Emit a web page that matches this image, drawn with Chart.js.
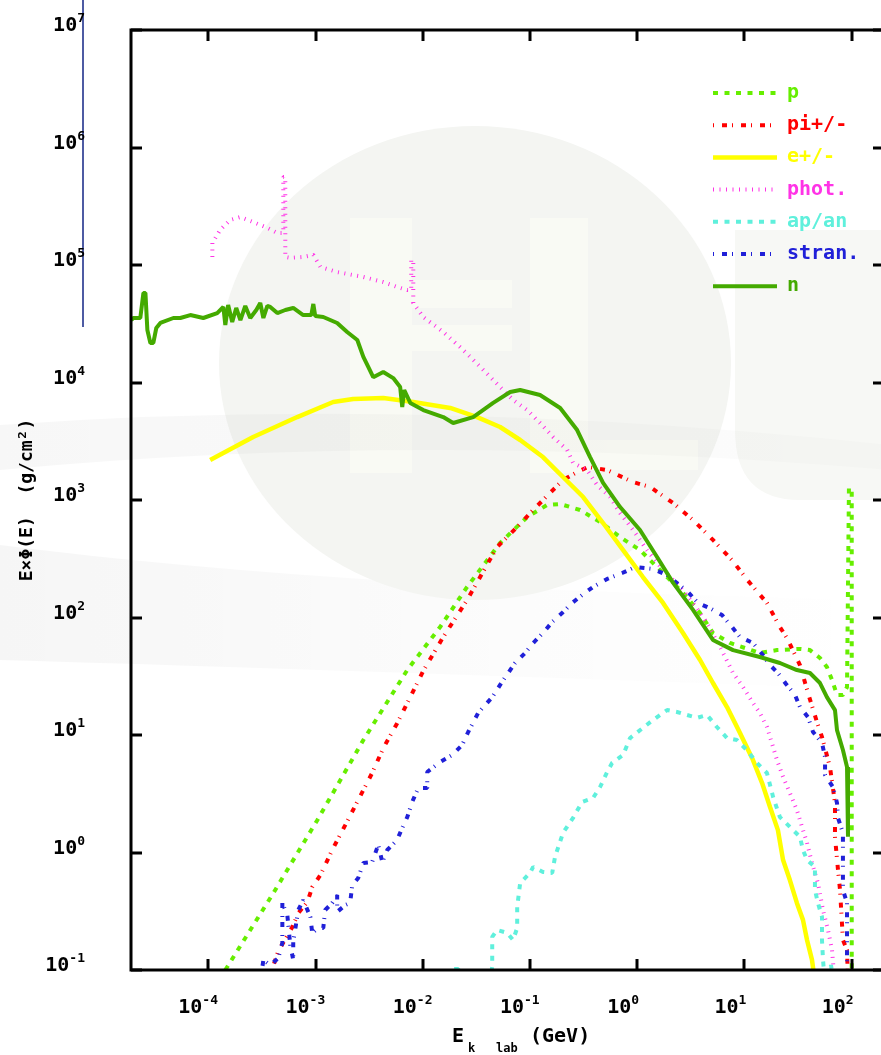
<!DOCTYPE html>
<html>
<head>
<meta charset="utf-8">
<script src="https://cdn.jsdelivr.net/npm/chart.js@4.4.0/dist/chart.umd.min.js"></script>
<style>
  html, body { margin: 0; padding: 0; background: #fff; overflow: hidden; }
  canvas { display: block; }
</style>
</head>
<body>
<canvas id="spectra" width="890" height="1055"></canvas>
<script>
// energy spectra E*phi(E) per particle family, E in GeV

const seriesLabels = ['p', 'pi+/-', 'e+/-', 'phot.', 'ap/an', 'stran.', 'n'];
const xTickExps = [-4, -3, -2, -1, 0, 1, 2];
const yTickExps = [-1, 0, 1, 2, 3, 4, 5, 6, 7];

const pEnergy = [1.44e-4, 4.04e-4, 1.04e-3, 2.79e-3, 7.16e-3, 1.45e-2, 2.59e-2, 5.26e-2, 9.40e-2, 0.144,
    0.191, 0.293, 0.450, 0.692, 1.06, 1.63, 2.67, 3.85, 5.08, 7.33,
    10.1, 13.9, 20.1, 32.9, 40.8, 50.6, 58.7, 65.5, 72.9, 82.8,
    90.4, 94.2, 100, 100];
const pFlux = [0.1, 0.452, 1.89, 9.06, 35.7, 83.0, 182, 431, 716, 906,
    925, 822, 650, 484, 375, 254, 162, 109, 73.8, 60.7,
    55.0, 49.9, 52.8, 54.0, 52.8, 45.2, 37.9, 29.4, 21.9, 21.9,
    25.6, 1260, 1260, 0.05];

const piEnergy = [3.86e-4, 4.49e-4, 6.07e-4, 6.90e-4, 8.38e-4, 9.31e-4, 1.11e-3, 1.43e-3, 1.89e-3, 2.50e-3,
    3.37e-3, 4.28e-3, 5.77e-3, 7.64e-3, 1.01e-2, 1.55e-2, 2.59e-2, 4.93e-2, 7.59e-2, 0.107,
    0.154, 0.203, 0.275, 0.348, 0.524, 0.914, 1.32, 2.16, 3.31, 5.08,
    7.64, 10.8, 16.2, 21.4, 24.9, 32.9, 39.1, 47.4, 52.8, 62.7,
    69.8, 69.8, 74.5, 77.8, 82.8, 90.4, 92.3];
const piFlux = [0.096, 0.145, 0.232, 0.305, 0.379, 0.508, 0.644, 1.05, 1.71, 2.80,
    4.75, 7.74, 12.6, 21.0, 35.1, 68.2, 141, 398, 589, 822,
    1150, 1480, 1730, 1910, 1800, 1420, 1290, 942, 676, 457,
    308, 205, 133, 83.0, 66.9, 39.4, 22.8, 12.9, 9.62, 5.34,
    2.64, 1.36, 0.710, 0.480, 0.180, 0.148, 0.082];

const eEnergy = [1.04e-4, 2.62e-4, 6.75e-4, 1.46e-3, 2.24e-3, 4.28e-3, 8.15e-3, 1.80e-2, 3.21e-2, 5.26e-2,
    8.09e-2, 0.132, 0.203, 0.313, 0.480, 0.738, 1.13, 1.74, 2.67, 3.85,
    5.08, 6.87, 9.08, 12.0, 14.6, 17.3, 20.5, 22.9, 26.5, 30.8,
    35.1, 38.3, 42.6, 44.5];
const eFlux = [2190, 3440, 5080, 6820, 7240, 7380, 6820, 6070, 5080, 4180,
    3240, 2320, 1570, 1060, 637, 375, 221, 133, 73.8, 43.5,
    27.7, 17.3, 10.4, 6.12, 3.90, 2.44, 1.55, 0.863, 0.583, 0.372,
    0.267, 0.180, 0.122, 0.091];

const photEnergy = [1.09e-4, 1.09e-4, 1.29e-4, 1.60e-4, 1.99e-4, 2.62e-4, 3.55e-4, 4.40e-4, 5.00e-4, 5.00e-4,
    5.22e-4, 5.22e-4, 5.81e-4, 7.67e-4, 9.53e-4, 1.11e-3, 1.59e-3, 2.79e-3, 4.28e-3, 5.77e-3,
    7.16e-3, 7.80e-3, 7.80e-3, 8.15e-3, 8.15e-3, 1.01e-2, 1.55e-2, 2.23e-2, 2.77e-2, 3.66e-2,
    5.26e-2, 6.95e-2, 9.40e-2, 0.124, 0.164, 0.222, 0.252, 0.340, 0.422, 0.558,
    0.692, 0.914, 1.23, 1.74, 2.51, 3.31, 4.47, 5.92, 7.82, 9.68,
    12.0, 13.9, 16.2, 18.0, 20.1, 22.9, 26.5, 30.8, 34.4, 38.3,
    42.6, 48.4, 54.0, 60.1, 65.5, 68.4];
const photFlux = [1.17e5, 1.54e5, 1.99e5, 2.42e5, 2.56e5, 2.32e5, 2.07e5, 1.87e5, 1.87e5, 5.61e5,
    5.61e5, 1.17e5, 1.15e5, 1.17e5, 1.22e5, 9.62e4, 8.71e4, 7.91e4, 7.16e4, 6.50e4,
    6.12e4, 6.12e4, 1.10e5, 1.10e5, 4.75e4, 3.61e4, 2.69e4, 2.00e4, 1.65e4, 1.28e4,
    9160, 7100, 5830, 4520, 3440, 2670, 2070, 1800, 1340, 1060,
    774, 556, 375, 254, 182, 133, 89.8, 56.1, 33.7, 25.6,
    18.7, 15.4, 11.7, 8.55, 6.12, 4.40, 3.21, 2.30, 1.65, 1.21,
    0.815, 0.550, 0.324, 0.219, 0.148, 0.091];

const apEnergy = [1.73e-2, 1.88e-2, 2.14e-2, 2.33e-2, 4.07e-2, 4.44e-2, 4.44e-2, 4.93e-2, 6.12e-2, 6.95e-2,
    7.59e-2, 7.59e-2, 8.09e-2, 0.100, 0.107, 0.132, 0.161, 0.171, 0.203, 0.252,
    0.306, 0.387, 0.450, 0.524, 0.582, 0.738, 0.857, 1.13, 1.40, 1.90,
    2.35, 2.91, 3.61, 4.47, 5.53, 6.87, 8.51, 10.5, 13.1, 16.2,
    18.5, 21.4, 26.5, 32.9, 35.1, 38.3, 45.4, 45.4, 48.4, 52.8,
    52.8, 54.0, 56.4, 60.1, 64.1, 68.4];
const apFlux = [0.068, 0.102, 0.102, 0.068, 0.068, 0.106, 0.191, 0.219, 0.207, 0.180,
    0.228, 0.343, 0.550, 0.670, 0.754, 0.683, 0.670, 0.916, 1.47, 1.97,
    2.69, 2.91, 3.61, 4.84, 5.78, 6.76, 9.42, 11.5, 13.4, 16.3,
    15.7, 14.8, 14.0, 14.8, 11.7, 9.42, 9.06, 7.45, 5.78, 4.75,
    2.96, 2.00, 1.65, 1.36, 1.05, 0.863, 0.754, 0.480, 0.372, 0.283,
    0.180, 0.122, 0.074, 0.074, 0.110, 0.074];

const strEnergy = [3.12e-4, 3.26e-4, 3.78e-4, 4.49e-4, 4.90e-4, 4.90e-4, 5.45e-4, 5.81e-4, 6.19e-4, 6.19e-4,
    6.90e-4, 7.67e-4, 8.94e-4, 9.31e-4, 1.06e-3, 1.18e-3, 1.23e-3, 1.43e-3, 1.59e-3, 1.59e-3,
    1.89e-3, 2.10e-3, 2.20e-3, 2.50e-3, 2.79e-3, 3.37e-3, 3.84e-3, 4.19e-3, 4.66e-3, 5.77e-3,
    6.43e-3, 7.16e-3, 7.96e-3, 9.06e-3, 1.10e-2, 1.10e-2, 1.45e-2, 1.88e-2, 2.33e-2, 2.65e-2,
    3.28e-2, 4.44e-2, 5.26e-2, 6.25e-2, 7.26e-2, 9.00e-2, 0.107, 0.132, 0.161, 0.199,
    0.247, 0.313, 0.387, 0.524, 0.723, 0.955, 1.40, 1.90, 2.97, 3.68,
    4.76, 6.17, 7.64, 9.08, 12.0, 14.6, 17.3, 20.5, 24.4, 29.6,
    32.9, 39.1, 43.6, 52.8, 56.4, 56.4, 66.8, 72.9, 74.5, 82.8,
    82.8, 82.8, 82.8, 90.4, 90.4, 90.4, 90.4];
const strFlux = [0.091, 0.122, 0.110, 0.126, 0.170, 0.372, 0.294, 0.163, 0.122, 0.173,
    0.324, 0.394, 0.283, 0.207, 0.228, 0.228, 0.324, 0.372, 0.435, 0.312,
    0.357, 0.372, 0.528, 0.607, 0.815, 0.830, 1.16, 0.830, 1.05, 1.28,
    1.62, 2.00, 2.69, 3.54, 3.54, 4.84, 5.89, 6.76, 8.22, 10.6,
    15.4, 21.0, 26.7, 33.7, 41.0, 49.9, 60.7, 73.8, 91.6, 109,
    133, 158, 182, 213, 239, 269, 259, 230, 165, 133,
    120, 105, 83.0, 68.2, 60.7, 48.9, 39.4, 33.7, 27.2, 21.9,
    17.3, 14.2, 10.6, 8.55, 6.50, 4.57, 3.61, 2.64, 1.97, 1.47,
    1.01, 0.710, 0.480, 0.372, 0.257, 0.180, 0.091];

const nEnergy = [1.91e-5, 2.00e-5, 2.32e-5, 2.48e-5, 2.59e-5, 2.70e-5, 2.88e-5, 3.07e-5, 3.27e-5, 3.57e-5,
    4.72e-5, 5.48e-5, 6.79e-5, 8.97e-5, 1.21e-4, 1.38e-4, 1.44e-4, 1.53e-4, 1.67e-4, 1.82e-4,
    1.99e-4, 2.21e-4, 2.46e-4, 2.80e-4, 3.05e-4, 3.26e-4, 3.55e-4, 3.78e-4, 4.40e-4, 5.22e-4,
    6.19e-4, 7.67e-4, 9.12e-4, 9.53e-4, 9.93e-4, 1.18e-3, 1.59e-3, 1.97e-3, 2.45e-3, 2.79e-3,
    3.10e-3, 3.45e-3, 4.28e-3, 5.30e-3, 6.15e-3, 6.43e-3, 6.71e-3, 7.64e-3, 1.01e-2, 1.55e-2,
    1.92e-2, 2.95e-2, 4.53e-2, 6.53e-2, 8.09e-2, 0.124, 0.191, 0.275, 0.363, 0.480,
    0.692, 1.06, 1.53, 2.16, 3.31, 5.08, 7.82, 13.9, 21.4, 30.8,
    40.8, 50.6, 58.7, 69.8, 72.9, 82.8, 90.4, 92.3];
const nFlux = [3.40e4, 3.54e4, 3.54e4, 5.78e4, 5.78e4, 2.80e4, 2.17e4, 2.17e4, 2.91e4, 3.21e4,
    3.54e4, 3.54e4, 3.75e4, 3.54e4, 3.90e4, 4.40e4, 3.08e4, 4.57e4, 3.27e4, 4.31e4,
    3.40e4, 4.48e4, 3.54e4, 4.14e4, 4.75e4, 3.54e4, 4.48e4, 4.40e4, 3.90e4, 4.14e4,
    4.31e4, 3.75e4, 3.75e4, 4.66e4, 3.68e4, 3.61e4, 3.21e4, 2.69e4, 2.30e4, 1.65e4,
    1.36e4, 1.11e4, 1.23e4, 1.09e4, 9160, 6180, 8630, 6700, 5830, 5080,
    4520, 5080, 6700, 8300, 8630, 7830, 6070, 3940, 2320, 1400,
    871, 556, 327, 197, 116, 64.4, 52.8, 46.1, 41.0, 35.7,
    33.7, 27.7, 21.0, 16.3, 11.0, 7.45, 5.34, 1.36];

// line styles in the same order as seriesLabels
const styles = [
    { color: '#66ee00', width: 4, dash: [5, 6.5] },
    { color: '#ff0000', width: 4, dash: [1, 8, 5, 5] },
    { color: '#ffff00', width: 4.5, dash: [] },
    { color: '#ff33e6', width: 4, dash: [1, 5.5] },
    { color: '#5ff0dc', width: 4, dash: [5, 6.5] },
    { color: '#2020d8', width: 4, dash: [1, 8, 5, 5] },
    { color: '#44aa00', width: 4, dash: [] }
];
const columns = [
    [pEnergy, pFlux], [piEnergy, piFlux], [eEnergy, eFlux], [photEnergy, photFlux],
    [apEnergy, apFlux], [strEnergy, strFlux], [nEnergy, nFlux]
];

const MONO = '"DejaVu Sans Mono", "Liberation Mono", monospace';

function toPoints(xs, ys) {
    const pts = [];
    for (let i = 0; i < Math.min(xs.length, ys.length); i++)
        pts.push({ x: xs[i], y: ys[i] });
    return pts;
}

const datasets = seriesLabels.map(function (name, i) {
    return {
        label: name,
        data: toPoints(columns[i][0], columns[i][1]),
        showLine: true,
        borderColor: styles[i].color,
        backgroundColor: styles[i].color,
        borderWidth: styles[i].width,
        borderDash: styles[i].dash,
        borderCapStyle: 'butt',
        borderJoinStyle: 'bevel',
        pointRadius: 0,
        tension: 0,
        order: seriesLabels.length - i
    };
});

// faint slide artwork behind the plot
const backdrop = {
    id: 'backdrop',
    beforeDraw(chart) {
        const ctx = chart.ctx;
        ctx.save();
        ctx.fillStyle = '#ffffff';
        ctx.fillRect(0, 0, chart.width, chart.height);

        let g = ctx.createLinearGradient(0, 0, 890, 0);
        g.addColorStop(0, 'rgba(0,0,0,0.035)');
        g.addColorStop(0.6, 'rgba(0,0,0,0.012)');
        g.addColorStop(1, 'rgba(0,0,0,0.0)');
        ctx.fillStyle = g;
        ctx.beginPath();
        ctx.moveTo(0, 545);
        ctx.quadraticCurveTo(350, 590, 890, 600);
        ctx.lineTo(890, 690);
        ctx.quadraticCurveTo(350, 670, 0, 660);
        ctx.closePath();
        ctx.fill();

        ctx.fillStyle = '#f4f5f2';
        ctx.beginPath();
        ctx.ellipse(475, 363, 256, 237, 0, 0, Math.PI * 2);
        ctx.fill();

        ctx.fillStyle = '#f7f8f5';
        ctx.beginPath();
        ctx.moveTo(735, 230);
        ctx.lineTo(895, 230);
        ctx.lineTo(895, 500);
        ctx.lineTo(800, 500);
        ctx.quadraticCurveTo(735, 500, 735, 430);
        ctx.closePath();
        ctx.fill();

        ctx.fillStyle = '#f9faf4';
        ctx.fillRect(350, 218, 62, 255);
        ctx.fillRect(412, 280, 100, 28);
        ctx.fillRect(412, 325, 100, 26);
        ctx.fillRect(530, 218, 58, 255);
        ctx.fillRect(588, 440, 110, 30);

        g = ctx.createLinearGradient(0, 0, 890, 0);
        g.addColorStop(0, 'rgba(0,0,0,0.03)');
        g.addColorStop(1, 'rgba(0,0,0,0.01)');
        ctx.fillStyle = g;
        ctx.beginPath();
        ctx.moveTo(0, 425);
        ctx.quadraticCurveTo(420, 395, 890, 445);
        ctx.lineTo(890, 470);
        ctx.quadraticCurveTo(420, 430, 0, 470);
        ctx.closePath();
        ctx.fill();

        ctx.strokeStyle = '#4d5ba3';
        ctx.lineWidth = 2;
        ctx.beginPath();
        ctx.moveTo(83, 0);
        ctx.lineTo(83, 327);
        ctx.stroke();
        ctx.restore();
    }
};

function drawPower(ctx, exp, anchorX, baseline, mode) {
    const sup = String(exp);
    ctx.font = 'bold 13px ' + MONO;
    const sw = ctx.measureText(sup).width;
    ctx.font = 'bold 20px ' + MONO;
    const bw = ctx.measureText('10').width;
    // mode 'x': "10" ends at anchorX; mode 'y': whole label ends at anchorX
    const baseRight = mode === 'x' ? anchorX : anchorX - sw;
    ctx.textAlign = 'left';
    ctx.textBaseline = 'alphabetic';
    ctx.fillText('10', baseRight - bw, baseline);
    ctx.font = 'bold 13px ' + MONO;
    ctx.fillText(sup, baseRight, baseline - 9);
}

// frame, inward ticks, decade labels, x title and key
const frame = {
    id: 'frame',
    afterDatasetsDraw(chart) {
        const ctx = chart.ctx;
        const a = chart.chartArea;
        const xs = chart.scales.x, ys = chart.scales.y;
        ctx.save();
        ctx.strokeStyle = '#000';
        ctx.lineWidth = 3;
        ctx.strokeRect(a.left, a.top, a.right - a.left, a.bottom - a.top);

        ctx.beginPath();
        xTickExps.forEach(function (p) {
            const px = Math.round(xs.getPixelForValue(Math.pow(10, p)));
            ctx.moveTo(px, a.bottom); ctx.lineTo(px, a.bottom - 11);
            ctx.moveTo(px, a.top); ctx.lineTo(px, a.top + 11);
        });
        yTickExps.forEach(function (p) {
            const py = Math.round(ys.getPixelForValue(Math.pow(10, p)));
            ctx.moveTo(a.left, py); ctx.lineTo(a.left + 11, py);
            ctx.moveTo(a.right, py); ctx.lineTo(a.right - 11, py);
        });
        ctx.stroke();

        ctx.fillStyle = '#000';
        xTickExps.forEach(function (p) {
            const px = xs.getPixelForValue(Math.pow(10, p));
            drawPower(ctx, p, px - 6, 1013, 'x');
        });
        yTickExps.forEach(function (p) {
            const py = ys.getPixelForValue(Math.pow(10, p));
            drawPower(ctx, p, 85, py + 1, 'y');
        });

        // x axis title with subscript
        ctx.textAlign = 'left';
        ctx.font = 'bold 20px ' + MONO;
        ctx.fillText('E', 452, 1042);
        ctx.font = 'bold 12px ' + MONO;
        ctx.fillText('k', 468, 1052);
        ctx.fillText('lab', 496, 1052);
        ctx.font = 'bold 20px ' + MONO;
        ctx.fillText('(GeV)', 530, 1042);

        // key, top right inside the frame
        chart.data.datasets.forEach(function (ds, i) {
            const yy = 93 + i * 32.2;
            ctx.strokeStyle = ds.borderColor;
            ctx.lineWidth = ds.borderWidth;
            ctx.setLineDash(ds.borderDash);
            ctx.beginPath();
            ctx.moveTo(713, yy);
            ctx.lineTo(777, yy);
            ctx.stroke();
            ctx.setLineDash([]);
            ctx.fillStyle = ds.borderColor;
            ctx.font = 'bold 20px ' + MONO;
            ctx.fillText(ds.label, 787, yy + 5);
        });
        ctx.restore();
    }
};

new Chart(document.getElementById('spectra'), {
    type: 'scatter',
    data: { datasets: datasets },
    options: {
        responsive: false,
        animation: false,
        layout: { padding: { top: 30, right: 6, left: 0, bottom: 0 } },
        plugins: { legend: { display: false }, tooltip: { enabled: false } },
        scales: {
            x: {
                type: 'logarithmic',
                min: 1.9e-5,
                max: 200,
                ticks: { display: false },
                grid: { display: false, drawTicks: false },
                border: { display: false },
                afterFit: function (s) { s.height = 85; }
            },
            y: {
                type: 'logarithmic',
                min: 0.1,
                max: 1e7,
                ticks: { display: false },
                grid: { display: false, drawTicks: false },
                border: { display: false },
                title: {
                    display: true,
                    text: 'E×Φ(E)  (g/cm²)',
                    color: '#000',
                    font: { family: MONO, size: 18, weight: 'bold' },
                    padding: { top: 17, bottom: 0 }
                },
                afterFit: function (s) { s.width = 131; }
            }
        }
    },
    plugins: [backdrop, frame]
});
</script>
</body>
</html>
